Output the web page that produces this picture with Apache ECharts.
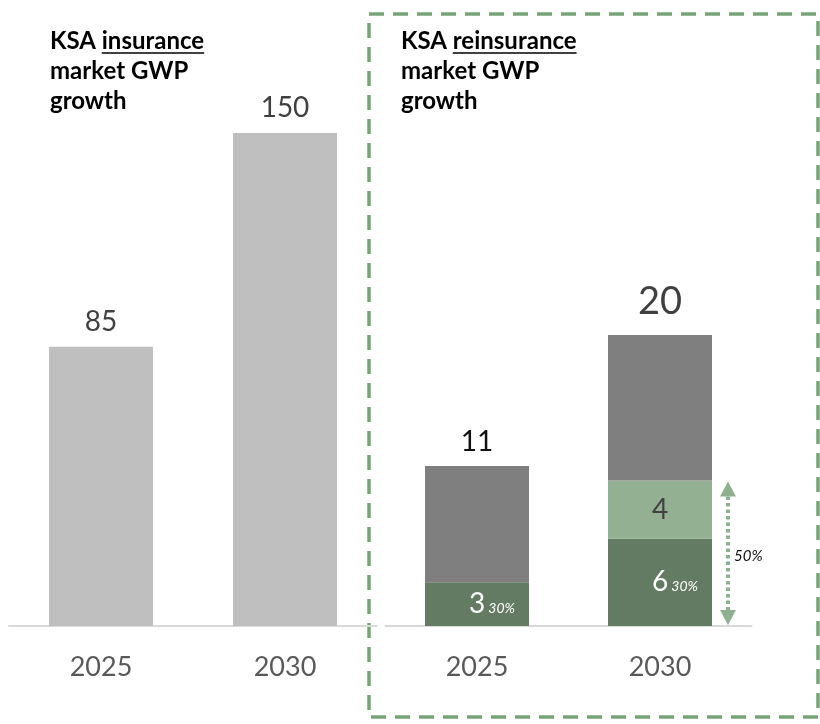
<!DOCTYPE html>
<html>
<head>
<meta charset="utf-8">
<script src="https://cdn.jsdelivr.net/npm/echarts@6/dist/echarts.min.js"></script>
<style>
  html, body { margin: 0; padding: 0; background: #ffffff; }
  #chart { width: 820px; height: 724px; }
</style>
</head>
<body>
<div id="chart"></div>
<script>
// Market data (GWP)
const years = ['2025', '2030'];
const insuranceGWP = [85, 150];
const reinsLocal = [3, 6];        // retained locally
const reinsAdded = [null, 4];     // additional local retention
const reinsOther = [8, 10];       // remainder
const localShareLabels = ['30%', '30%'];
const targetShareLabel = '50%';

const FONT = 'Lato, "Open Sans", sans-serif';
const BAR_W = 104;

const chart = echarts.init(document.getElementById('chart'), null, { renderer: 'canvas' });

const totals = years.map((_, i) => (reinsLocal[i] || 0) + (reinsAdded[i] || 0) + (reinsOther[i] || 0));

const option = {
  animation: false,
  grid: [
    { left: 9, width: 368, top: 133, bottom: 98 },
    { left: 385.5, width: 366, top: 335, bottom: 98 }
  ],
  xAxis: [0, 1].map(g => ({
    type: 'category',
    gridIndex: g,
    data: years,
    axisTick: { show: false },
    axisLine: { lineStyle: { color: '#d9d9d9', width: 2 } },
    axisLabel: { color: '#595959', fontSize: 27, fontFamily: FONT, margin: 28 }
  })),
  yAxis: [
    { type: 'value', gridIndex: 0, min: 0, max: 150, show: false, splitLine: { show: false } },
    { type: 'value', gridIndex: 1, min: 0, max: 20, show: false, splitLine: { show: false } }
  ],
  series: [
    {
      type: 'bar', xAxisIndex: 0, yAxisIndex: 0, barWidth: BAR_W,
      data: insuranceGWP,
      itemStyle: { color: '#bfbfbf' },
      label: { show: true, position: 'top', distance: 11, color: '#404040', fontSize: 28, fontFamily: FONT }
    },
    {
      type: 'bar', xAxisIndex: 1, yAxisIndex: 1, barWidth: BAR_W, stack: 're',
      data: reinsLocal,
      itemStyle: { color: '#637b63' },
      label: {
        show: true, position: 'inside', offset: [15, 0],
        formatter: p => '{v|' + p.value + '}{p|' + localShareLabels[p.dataIndex] + '}',
        rich: {
          v: { color: '#ffffff', fontSize: 28, fontFamily: FONT, verticalAlign: 'bottom' },
          p: { color: '#ffffff', fontSize: 14, fontStyle: 'italic', fontFamily: FONT, padding: [0, 0, 3, 3], verticalAlign: 'bottom' }
        }
      }
    },
    {
      type: 'bar', xAxisIndex: 1, yAxisIndex: 1, barWidth: BAR_W, stack: 're',
      data: reinsAdded,
      itemStyle: { color: '#93b092' },
      label: { show: true, position: 'inside', color: '#404040', fontSize: 28, fontFamily: FONT }
    },
    {
      type: 'bar', xAxisIndex: 1, yAxisIndex: 1, barWidth: BAR_W, stack: 're',
      data: reinsOther.map((v, i) => ({
        value: v,
        label: i === years.length - 1
          ? { fontSize: 38, color: '#404040', distance: 14 }
          : { fontSize: 28, color: '#111111', distance: 10 }
      })),
      itemStyle: { color: '#7f7f7f' },
      label: {
        show: true, position: 'top', fontFamily: FONT,
        formatter: p => String(totals[p.dataIndex])
      }
    }
  ]
};

chart.setOption(option);

// Headings with underlined keyword
const measure = (() => {
  const ctx = document.createElement('canvas').getContext('2d');
  return (txt, font) => { ctx.font = font; return ctx.measureText(txt).width; };
})();
const TITLE_FONT = 'bold 24px ' + FONT;

function heading(x, lead, key, rest) {
  const els = [];
  const lines = [lead + key, rest[0], rest[1]];
  lines.forEach((t, i) => {
    els.push({
      type: 'text', silent: true,
      style: { text: t, x: x, y: 41 + i * 30, font: TITLE_FONT, fill: '#000000', textVerticalAlign: 'middle' }
    });
  });
  const x0 = x + measure(lead, TITLE_FONT);
  const x1 = x0 + measure(key, TITLE_FONT);
  els.push({
    type: 'line', silent: true,
    shape: { x1: x0, y1: 53, x2: x1, y2: 53 },
    style: { stroke: '#000000', lineWidth: 1.6 }
  });
  return els;
}

// Retention arrow beside the 2030 bar
const lastIdx = years.length - 1;
const greenTop = (reinsLocal[lastIdx] || 0) + (reinsAdded[lastIdx] || 0);
const pTop = chart.convertToPixel({ xAxisIndex: 1, yAxisIndex: 1 }, [years[lastIdx], greenTop]);
const pBot = chart.convertToPixel({ xAxisIndex: 1, yAxisIndex: 1 }, [years[lastIdx], 0]);
const ax = pTop[0] + BAR_W / 2 + 16;
const ARROW = '#8fb08f';
const headH = 15, headW = 8;
const yTip1 = pTop[1] + 1, yTip2 = pBot[1] - 1;

const graphics = [].concat(
  heading(50, 'KSA ', 'insurance', ['market GWP', 'growth']),
  heading(401, 'KSA ', 'reinsurance', ['market GWP', 'growth']),
  [
    {
      type: 'rect', silent: true,
      shape: { x: 369, y: 14, width: 449, height: 703 },
      style: { fill: 'none', stroke: '#77a477', lineWidth: 3.5, lineDash: [15, 9] }
    },
    {
      type: 'line', silent: true,
      shape: { x1: ax, y1: yTip1 + headH, x2: ax, y2: yTip2 - headH },
      style: { stroke: ARROW, lineWidth: 4, lineDash: [3.5, 3] }
    },
    {
      type: 'polygon', silent: true,
      shape: { points: [[ax, yTip1], [ax - headW, yTip1 + headH], [ax + headW, yTip1 + headH]] },
      style: { fill: ARROW }
    },
    {
      type: 'polygon', silent: true,
      shape: { points: [[ax, yTip2], [ax - headW, yTip2 - headH], [ax + headW, yTip2 - headH]] },
      style: { fill: ARROW }
    },
    {
      type: 'text', silent: true,
      style: {
        text: targetShareLabel, x: ax + 6, y: (yTip1 + yTip2) / 2 + 3,
        font: 'italic 15px ' + FONT, fill: '#111111', textVerticalAlign: 'middle'
      }
    }
  ]
);

chart.setOption({ graphic: graphics });
</script>
</body>
</html>
